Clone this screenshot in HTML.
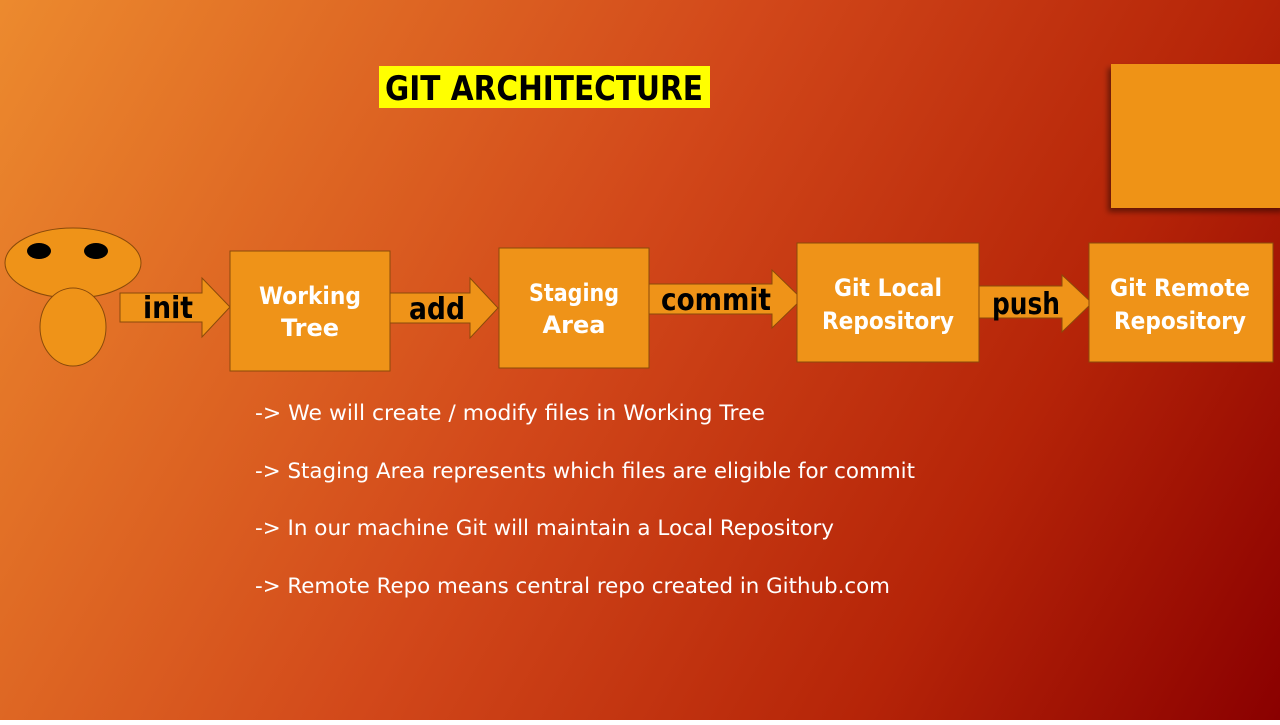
<!DOCTYPE html>
<html><head><style>
html,body{margin:0;padding:0;}
body{width:1280px;height:720px;overflow:hidden;}
svg text{font-family:"DejaVu Sans","Liberation Sans",sans-serif;}
</style></head><body>
<svg width="1280" height="720" xmlns="http://www.w3.org/2000/svg">
<defs>
<linearGradient id="bg" x1="0" y1="0" x2="1280" y2="720" gradientUnits="userSpaceOnUse">
<stop offset="0" stop-color="#ec8a2e"/>
<stop offset="0.45" stop-color="#d2481a"/>
<stop offset="0.75" stop-color="#b52408"/>
<stop offset="1" stop-color="#8a0000"/>
</linearGradient>
<filter id="sh" x="-10%" y="-10%" width="130%" height="130%"><feDropShadow dx="-3" dy="4" stdDeviation="3" flood-opacity="0.45"/></filter>
</defs>
<rect width="1280" height="720" fill="url(#bg)"/>
<rect x="379" y="66" width="331" height="42" fill="#ffff00"/>
<text x="544" y="100" font-size="34" text-anchor="middle" fill="#000" font-weight="bold" textLength="318" lengthAdjust="spacingAndGlyphs">GIT ARCHITECTURE</text>
<rect x="1111" y="64" width="175" height="144" fill="#ef9318" filter="url(#sh)"/>
<g fill="#ef9318" stroke="#8a4a0a" stroke-width="1">
<ellipse cx="73" cy="263" rx="68" ry="35"/>
<ellipse cx="73" cy="327" rx="33" ry="39"/>
<polygon points="120,293 202,293 202,278 230,307 202,337 202,322 120,322"/>
<polygon points="390,293 470,293 470,278 498,308 470,338 470,323 390,323"/>
<polygon points="645,284 772,284 772,270 802,299 772,328 772,314 645,314"/>
<polygon points="978,286 1062,286 1062,275 1092,303 1062,332 1062,318 978,318"/>
<rect x="230" y="251" width="160" height="120"/>
<rect x="499" y="248" width="150" height="120"/>
<rect x="797" y="243" width="182" height="119"/>
<rect x="1089" y="243" width="184" height="119"/>
</g>
<ellipse cx="39" cy="251" rx="12" ry="8" fill="#000"/>
<ellipse cx="96" cy="251" rx="12" ry="8" fill="#000"/>
<g font-size="30" font-weight="bold" fill="#000" text-anchor="middle">
<text x="168" y="318" textLength="50" lengthAdjust="spacingAndGlyphs">init</text>
<text x="437" y="319" textLength="56" lengthAdjust="spacingAndGlyphs">add</text>
<text x="716" y="310" textLength="110" lengthAdjust="spacingAndGlyphs">commit</text>
<text x="1026" y="314" textLength="68" lengthAdjust="spacingAndGlyphs">push</text>
</g>
<g font-size="24" font-weight="bold" fill="#fff" text-anchor="middle">
<text x="310" y="304" textLength="102" lengthAdjust="spacingAndGlyphs">Working</text><text x="310" y="336">Tree</text>
<text x="574" y="301" textLength="90" lengthAdjust="spacingAndGlyphs">Staging</text><text x="574" y="333">Area</text>
<text x="888" y="296" textLength="108" lengthAdjust="spacingAndGlyphs">Git Local</text><text x="888" y="329" textLength="132" lengthAdjust="spacingAndGlyphs">Repository</text>
<text x="1180" y="296" textLength="140" lengthAdjust="spacingAndGlyphs">Git Remote</text><text x="1180" y="329" textLength="132" lengthAdjust="spacingAndGlyphs">Repository</text>
</g>
<g font-size="21" fill="#fff">
<text x="255" y="420" textLength="510" lengthAdjust="spacingAndGlyphs">-&gt; We will create / modify files in Working Tree</text>
<text x="255" y="478" textLength="660" lengthAdjust="spacingAndGlyphs">-&gt; Staging Area represents which files are eligible for commit</text>
<text x="255" y="535" textLength="579" lengthAdjust="spacingAndGlyphs">-&gt; In our machine Git will maintain a Local Repository</text>
<text x="255" y="593" textLength="635" lengthAdjust="spacingAndGlyphs">-&gt; Remote Repo means central repo created in Github.com</text>
</g>
</svg>
</body></html>
